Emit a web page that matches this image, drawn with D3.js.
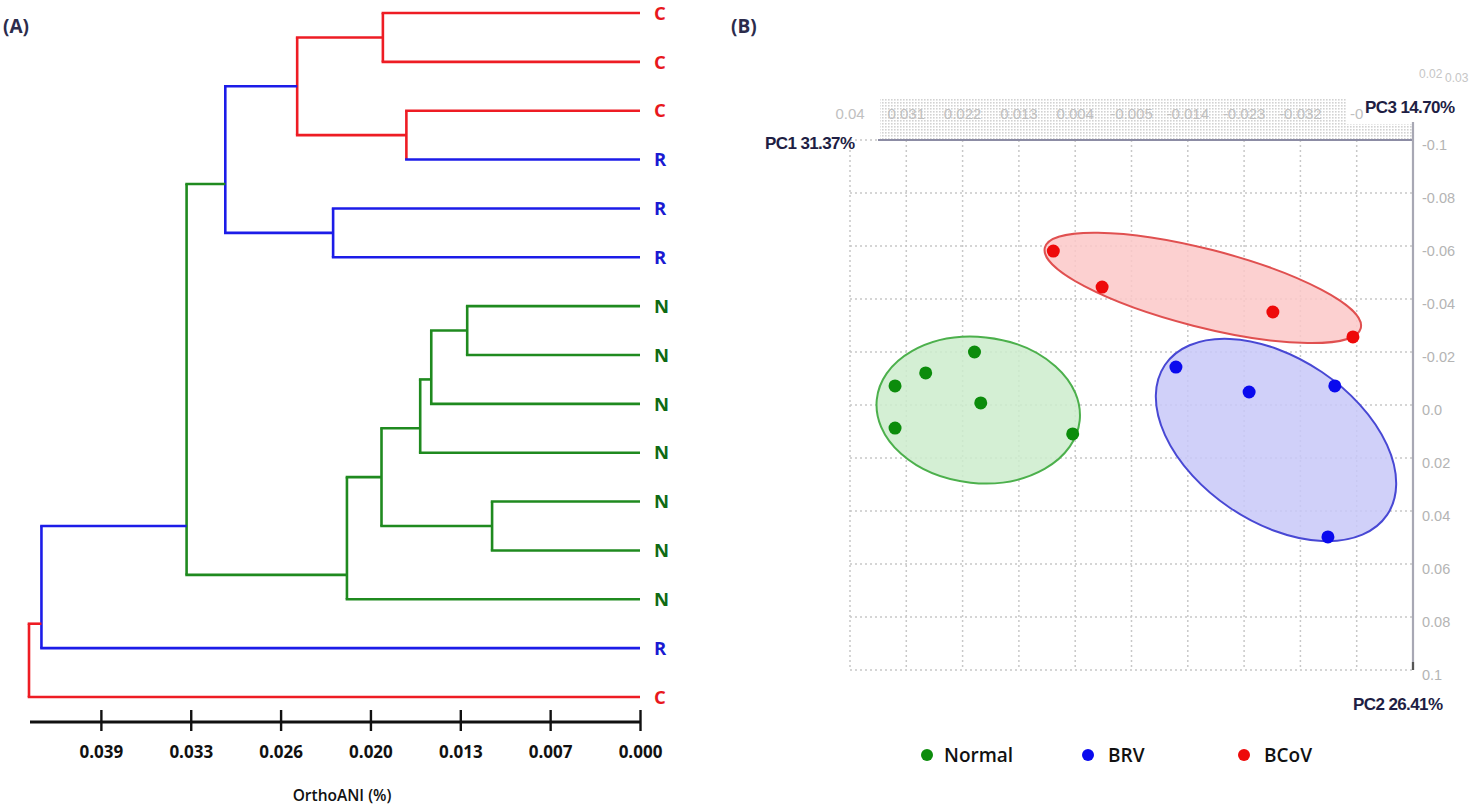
<!DOCTYPE html>
<meta charset="utf-8">
<html>
<style>
  body { margin: 0; background: #fff; }
  svg text { font-family: "Open Sans", "DejaVu Sans", sans-serif; }
  .pc text, text.pc { font-family: "Liberation Sans", Arial, sans-serif; }
</style>
<body>
<div id="chart"></div>
<script src="https://d3js.org/d3.v7.min.js"></script>
<script>
// ----- Panel A data: dendrogram (hclust style merges, negative = leaf) -----
const leafLabels = ["C","C","C","R","R","R","N","N","N","N","N","N","N","R","C"];
const merges = [[-1,-2],[-3,-4],[1,2],[-5,-6],[3,4],[-7,-8],[6,-9],[7,-10],[-11,-12],[8,9],[10,-13],[5,11],[12,-14],[13,-15]];
const mergeHeights = [0.0186,0.0169,0.0248,0.0222,0.0300,0.0125,0.0151,0.0159,0.0107,0.0187,0.0212,0.0328,0.0433,0.0442];
const mergeGroups = ["C","C","C","R","R","N","N","N","N","N","N","N","R","C"];
const joinOverride = {12: 11};   // merge 12 joins after leaf 11 in the original figure
const axisTicks = [0.039,0.0325,0.026,0.0195,0.013,0.0065,0];
const axisTickLabels = ["0.039","0.033","0.026","0.020","0.013","0.007","0.000"];

// ----- Panel B data: PCA scores -----
const pcGroups = ["Normal","BRV","BCoV"];
const normalPC1 = [0.0201,0.0279,0.0328,0.0191,0.0328,0.0044];
const normalPC2 = [-0.0200,-0.0121,-0.0072,-0.0008,0.0087,0.0109];
const brvPC1 = [-0.0121,-0.0238,-0.0375,-0.0364];
const brvPC2 = [-0.0143,-0.0049,-0.0072,0.0498];
const bcovPC1 = [0.0075,-0.0003,-0.0276,-0.0404];
const bcovPC2 = [-0.0581,-0.0445,-0.0351,-0.0257];
const ellipseCenterPC1 = [0.0195,-0.0281,-0.0164];
const ellipseCenterPC2 = [0.0019,0.0132,-0.0442];
const pc1Ticks = [0.04,0.031,0.022,0.013,0.004,-0.005,-0.014,-0.023,-0.032,-0.041];
const pc1TickLabels = ["0.04","0.031","0.022","0.013","0.004","-0.005","-0.014","-0.023","-0.032","-0"];
const pc2Ticks = [-0.1,-0.08,-0.06,-0.04,-0.02,0,0.02,0.04,0.06,0.08,0.1];
const pc2TickLabels = ["-0.1","-0.08","-0.06","-0.04","-0.02","0.0","0.02","0.04","0.06","0.08","0.1"];

const W = 1472, H = 808;
const svg = d3.select("#chart").append("svg").attr("width", W).attr("height", H);

// =========================== Panel A ===========================
const lineCol = {C: "#ee1c24", R: "#1c1ce8", N: "#1f8a1f"};
const textCol = {C: "#e8171d", R: "#1a1ad2", N: "#0e6a12"};

const x = d3.scaleLinear().domain([0.0442, 0]).range([29, 640]);
const yLeaf = d3.scalePoint().domain(d3.range(1, leafLabels.length + 1)).range([13, 697]);

const gA = svg.append("g");

// leaves under each merge
const leavesOf = {};
function getLeaves(k) {
  if (k < 0) return [-k];
  if (leavesOf[k]) return leavesOf[k];
  const [a, b] = merges[k - 1];
  return (leavesOf[k] = getLeaves(a).concat(getLeaves(b)));
}
function nodePos(k) {
  if (k < 0) return {x: x(0), y: yLeaf(-k)};
  const [a] = merges[k - 1];
  const after = joinOverride[k] || d3.max(getLeaves(a));
  return {x: x(mergeHeights[k - 1]), y: (yLeaf(after) + yLeaf(after + 1)) / 2};
}

merges.forEach((m, i) => {
  const k = i + 1;
  const p = nodePos(k);
  const col = lineCol[mergeGroups[i]];
  const ca = nodePos(m[0]), cb = nodePos(m[1]);
  gA.append("line").attr("x1", p.x).attr("x2", p.x).attr("y1", ca.y).attr("y2", cb.y)
    .attr("stroke", col).attr("stroke-width", 2.6);
  m.forEach(c => {
    const cp = nodePos(c);
    const hc = c < 0 ? lineCol[leafLabels[-c - 1]] : col;
    gA.append("line").attr("x1", p.x - 1.3).attr("x2", cp.x).attr("y1", cp.y).attr("y2", cp.y)
      .attr("stroke", hc).attr("stroke-width", 2.6);
  });
});

gA.selectAll("text.leaf").data(leafLabels).join("text")
  .attr("class", "leaf")
  .attr("x", 654).attr("y", (d, i) => yLeaf(i + 1))
  .attr("dy", "0.36em")
  .attr("fill", d => textCol[d])
  .style("font-size", "18.5px").style("font-weight", 700)
  .text(d => d);

// axis
const axisA = gA.append("g").attr("transform", "translate(0,722)")
  .call(d3.axisBottom(x).tickValues(axisTicks).tickFormat((d, i) => axisTickLabels[i])
    .tickSizeOuter(0).tickSizeInner(9).tickPadding(15));
axisA.select(".domain").attr("stroke", "#111").attr("stroke-width", 3.2).attr("d", "M30,0H640");
axisA.selectAll(".tick line").attr("y1", -12).attr("y2", 9).attr("stroke", "#111").attr("stroke-width", 2.4);
axisA.selectAll(".tick text").attr("fill", "#111")
  .style("font-size", "17px").style("font-weight", 700)
  .style("font-family", "'Open Sans', sans-serif");

gA.append("text").attr("x", 342).attr("y", 801).attr("text-anchor", "middle")
  .style("font-size", "15.5px").style("font-weight", 600).attr("fill", "#111")
  .text("OrthoANI (%)");

svg.append("text").attr("x", 3).attr("y", 33).style("font-size", "19px").style("font-weight", 700)
  .attr("fill", "#2c2c4c").text("(A)");
svg.append("text").attr("x", 731).attr("y", 33).style("font-size", "19px").style("font-weight", 700)
  .attr("fill", "#2c2c4c").text("(B)");

// =========================== Panel B ===========================
const px = d3.scaleLinear().domain([0.04, -0.05]).range([850, 1413]);
const py = d3.scaleLinear().domain([-0.1, 0.1]).range([140, 670]);
const gB = svg.append("g");

// dotted band behind the top tick labels
const defs = svg.append("defs");
defs.append("pattern").attr("id", "dots").attr("width", 3).attr("height", 3)
  .attr("patternUnits", "userSpaceOnUse")
  .append("rect").attr("width", 1.6).attr("height", 1.6).attr("fill", "#d2d2d2");
gB.append("rect").attr("x", 880).attr("y", 99).attr("width", 466).attr("height", 40).attr("fill", "url(#dots)");
gB.append("rect").attr("x", 1346).attr("y", 124).attr("width", 68).attr("height", 15).attr("fill", "url(#dots)");

// grid
gB.selectAll("line.vg").data(pc1Ticks).join("line").attr("class", "vg")
  .attr("x1", d => px(d)).attr("x2", d => px(d)).attr("y1", 140).attr("y2", 670)
  .attr("stroke", "#c8c8c8").attr("stroke-width", 1.5).attr("stroke-dasharray", "2,3");
gB.selectAll("line.hg").data(pc2Ticks).join("line").attr("class", "hg")
  .attr("x1", 850).attr("x2", 1413).attr("y1", d => py(d)).attr("y2", d => py(d))
  .attr("stroke", "#c8c8c8").attr("stroke-width", 1.5).attr("stroke-dasharray", "2,3");

// axes lines
gB.append("line").attr("x1", 878).attr("x2", 1414).attr("y1", 140).attr("y2", 140)
  .attr("stroke", "#8c8ca4").attr("stroke-width", 2);
gB.append("line").attr("x1", 1413).attr("x2", 1413).attr("y1", 122).attr("y2", 670)
  .attr("stroke", "#a8a8b4").attr("stroke-width", 2.2);
gB.append("line").attr("x1", 1413).attr("x2", 1413).attr("y1", 662).attr("y2", 670)
  .attr("stroke", "#555").attr("stroke-width", 2.2);

// tick labels
gB.selectAll("text.tx").data(pc1Ticks).join("text").attr("class", "tx pc")
  .attr("x", d => px(d)).attr("y", 119).attr("text-anchor", "middle")
  .attr("fill", "#c0c0c0").style("font-size", "15px")
  .text((d, i) => pc1TickLabels[i]);
gB.selectAll("text.ty").data(pc2Ticks).join("text").attr("class", "ty pc")
  .attr("x", 1422).attr("y", d => py(d) + 10).attr("fill", "#b4b4b4").style("font-size", "14.5px")
  .text((d, i) => pc2TickLabels[i]);
gB.append("text").attr("class", "pc").attr("x", 1419).attr("y", 78).attr("fill", "#c6c6c6")
  .style("font-size", "12px").text("0.02");
gB.append("text").attr("class", "pc").attr("x", 1445).attr("y", 82).attr("fill", "#c6c6c6")
  .style("font-size", "12px").text("0.03");

// axis titles
const titleStyle = sel => sel.attr("class", "pc").attr("fill", "#1e1e44")
  .style("font-size", "17px").style("font-weight", 700).style("letter-spacing", "-0.6px");
gB.append("text").call(titleStyle).attr("x", 765).attr("y", 149).text("PC1 31.37%");
gB.append("text").call(titleStyle).attr("x", 1365).attr("y", 113).text("PC3 14.70%");
gB.append("text").call(titleStyle).attr("x", 1353).attr("y", 710).text("PC2 26.41%");

// confidence ellipses (semi axes in px, rotation in degrees)
const ellRx = [102, 134, 163], ellRy = [73, 82, 39], ellRot = [6, 34, 14.3];
const fillCol = ["#cdeccd", "#c8c8f8", "#fcc8c8"];
const strokeCol = ["#4cb04c", "#4848d4", "#e05050"];
pcGroups.forEach((g, i) => {
  const cx = px(ellipseCenterPC1[i]), cy = py(ellipseCenterPC2[i]);
  gB.append("ellipse").attr("cx", 0).attr("cy", 0).attr("rx", ellRx[i]).attr("ry", ellRy[i])
    .attr("transform", `translate(${cx},${cy}) rotate(${ellRot[i]})`)
    .attr("fill", fillCol[i]).attr("fill-opacity", 0.85)
    .attr("stroke", strokeCol[i]).attr("stroke-width", 2);
});

// points
const dotCol = ["#0c8c0c", "#0a0aee", "#ee0a0a"];
const sets = [[normalPC1, normalPC2], [brvPC1, brvPC2], [bcovPC1, bcovPC2]];
sets.forEach(([a, b], i) => {
  gB.selectAll("circle.g" + i).data(a).join("circle").attr("class", "g" + i)
    .attr("cx", d => px(d)).attr("cy", (d, j) => py(b[j])).attr("r", 6.5)
    .attr("fill", dotCol[i]);
});

// legend
const legX = [927, 1088, 1244];
pcGroups.forEach((g, i) => {
  gB.append("circle").attr("cx", legX[i]).attr("cy", 755).attr("r", 6).attr("fill", dotCol[i]);
  gB.append("text").attr("x", legX[i] + (i === 0 ? 17 : 20)).attr("y", 762).attr("fill", "#111")
    .style("font-size", "19px").style("font-weight", 600).text(g);
});
</script>
</body>
</html>
